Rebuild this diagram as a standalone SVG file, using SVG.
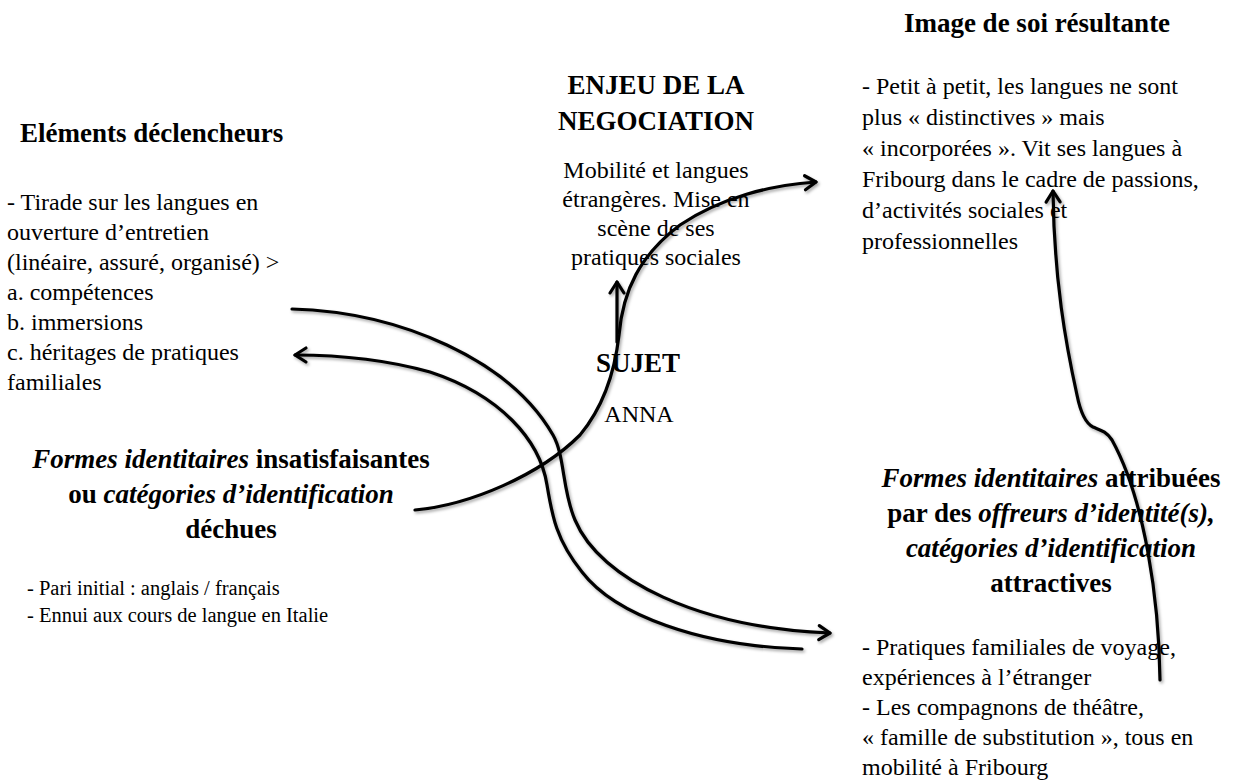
<svg xmlns="http://www.w3.org/2000/svg" width="1235" height="782" viewBox="0 0 1235 782">
<style>
  text { font-family: "Liberation Serif", "Times New Roman", serif; fill: #000; }
  .title { font-size: 27px; font-weight: bold; }
  .body { font-size: 24px; }
  .small { font-size: 20.5px; }
  .c { text-anchor: middle; }
  .it { font-style: italic; }
  .conn { fill: none; stroke: #000; stroke-width: 3.2; stroke-linecap: round; }
</style>
<defs>
  <marker id="arr" markerUnits="userSpaceOnUse" markerWidth="20" markerHeight="20" refX="15" refY="10" orient="auto">
    <path d="M4,3 L15,10 L4,17" fill="none" stroke="#000" stroke-width="3.2" stroke-linecap="round" stroke-linejoin="round"/>
  </marker>
  <filter id="sh" x="-10%" y="-10%" width="120%" height="120%">
    <feDropShadow dx="1.5" dy="2" stdDeviation="1.5" flood-color="#000" flood-opacity="0.35"/>
  </filter>
</defs>
<rect width="1235" height="782" fill="#fff"/>

<g id="n-declencheurs">
  <text class="title" x="20" y="142">Eléments déclencheurs</text>
  <text class="body" x="7" y="210">- Tirade sur les langues en</text>
  <text class="body" x="7" y="240">ouverture d’entretien</text>
  <text class="body" x="7" y="270">(linéaire, assuré, organisé) &gt;</text>
  <text class="body" x="7" y="300">a. compétences</text>
  <text class="body" x="7" y="330">b. immersions</text>
  <text class="body" x="7" y="360">c. héritages de pratiques</text>
  <text class="body" x="7" y="390">familiales</text>
</g>

<g id="n-enjeu">
  <text class="title c" x="656" y="94">ENJEU DE LA</text>
  <text class="title c" x="656" y="130">NEGOCIATION</text>
  <text class="body c" x="656" y="178">Mobilité et langues</text>
  <text class="body c" x="656" y="207">étrangères. Mise en</text>
  <text class="body c" x="656" y="236">scène de ses</text>
  <text class="body c" x="656" y="265">pratiques sociales</text>
</g>

<g id="n-image">
  <text class="title c" x="1037" y="32">Image de soi résultante</text>
  <text class="body" x="862" y="94">- Petit à petit, les langues ne sont</text>
  <text class="body" x="862" y="125">plus « distinctives » mais</text>
  <text class="body" x="862" y="156">« incorporées ». Vit ses langues à</text>
  <text class="body" x="862" y="187">Fribourg dans le cadre de passions,</text>
  <text class="body" x="862" y="218">d’activités sociales et</text>
  <text class="body" x="862" y="249">professionnelles</text>
</g>

<g id="n-sujet">
  <text class="title c" x="638" y="372">SUJET</text>
  <text class="body c" x="639" y="422">ANNA</text>
</g>

<g id="n-formes-dechues">
  <text class="title c" x="231" y="468"><tspan class="it">Formes identitaires</tspan> insatisfaisantes</text>
  <text class="title c" x="231" y="503">ou <tspan class="it">catégories d’identification</tspan></text>
  <text class="title c" x="231" y="538">déchues</text>
  <text class="small" x="27" y="595">- Pari initial : anglais / français</text>
  <text class="small" x="27" y="622">- Ennui aux cours de langue en Italie</text>
</g>

<g id="n-formes-attractives">
  <text class="title c" x="1051" y="487"><tspan class="it">Formes identitaires</tspan> attribuées</text>
  <text class="title c" x="1051" y="522">par des <tspan class="it">offreurs d’identité(s),</tspan></text>
  <text class="title c it" x="1051" y="557">catégories d’identification</text>
  <text class="title c" x="1051" y="592">attractives</text>
  <text class="body" x="862" y="655">- Pratiques familiales de voyage,</text>
  <text class="body" x="862" y="685">expériences à l’étranger</text>
  <text class="body" x="862" y="715">- Les compagnons de théâtre,</text>
  <text class="body" x="862" y="745">« famille de substitution », tous en</text>
  <text class="body" x="862" y="775">mobilité à Fribourg</text>
</g>

<g id="connectors" filter="url(#sh)">
  <path class="conn" d="M292,309 C400,312 510,360 553,435 C565,456 562,490 575,520 C600,580 700,628 830,633" marker-end="url(#arr)"/>
  <path class="conn" d="M802,649 C700,646 615,615 582,572 C556,540 552,515 547,485 C540,440 500,395 430,372 C380,358 330,355 295,355" marker-end="url(#arr)"/>
  <path class="conn" d="M415,510 C470,505 540,475 580,435 C605,405 615,370 619,335 C623,290 640,255 680,225 C720,198 770,185 816,182" marker-end="url(#arr)"/>
  <path class="conn" d="M617,342 L617,282" marker-end="url(#arr)"/>
  <path class="conn" d="M1160,680 C1159,600 1145,500 1112,440 C1106,431 1100,430 1093,427 C1085,423 1080,410 1077,395 C1066,345 1054,280 1053,191" marker-end="url(#arr)"/>
</g>
</svg>
